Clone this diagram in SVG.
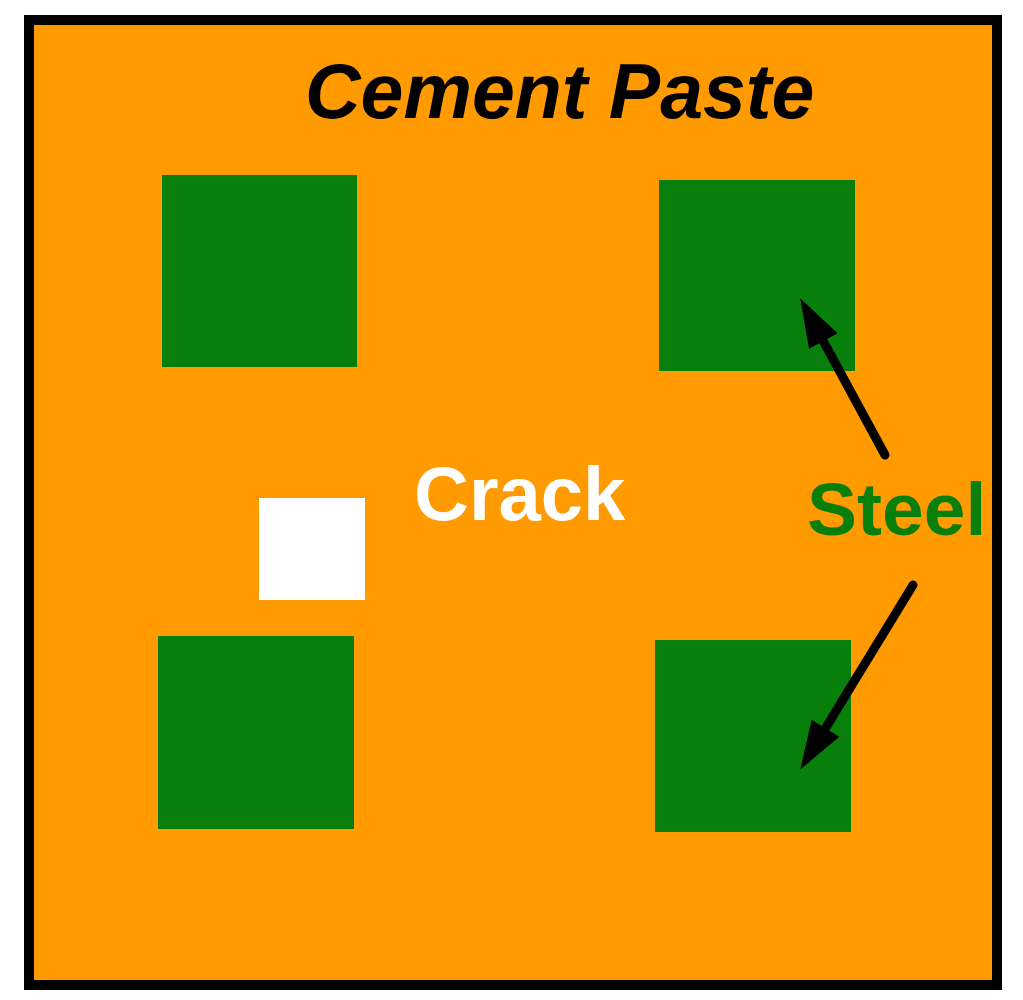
<svg xmlns="http://www.w3.org/2000/svg" width="1023" height="1000" viewBox="0 0 1023 1000">
<defs>
<style>
.steel{fill:#087f0a}
.lbl{font-family:"Liberation Sans",Arial,sans-serif;font-weight:bold}
.arr{stroke:#000;stroke-width:9;stroke-linecap:round;fill:none}
</style>
<marker id="ah" viewBox="0 0 12 8" refX="7.15" refY="4" markerWidth="5.5" markerHeight="3.6" orient="auto" markerUnits="strokeWidth">
<path d="M0,0 L12,4 L0,8 z" fill="#000"/>
</marker>
</defs>
<rect width="1023" height="1000" fill="#fff"/>
<g id="paste">
<rect x="29" y="20" width="968" height="965" fill="#ff9a00" stroke="#000" stroke-width="10"/>
<text class="lbl" x="305" y="118" font-size="77" font-style="italic" fill="#000">Cement Paste</text>
</g>
<g id="steel-tl"><rect class="steel" x="162" y="175" width="195" height="192"/></g>
<g id="steel-tr"><rect class="steel" x="659" y="180" width="196" height="191"/></g>
<g id="steel-bl"><rect class="steel" x="158" y="636" width="196" height="193"/></g>
<g id="steel-br"><rect class="steel" x="655" y="640" width="196" height="192"/></g>
<g id="crack">
<rect x="259" y="498" width="106" height="102" fill="#fff"/>
<text class="lbl" x="414" y="520" font-size="76" fill="#fff">Crack</text>
</g>
<g id="steel-label">
<text class="lbl" x="807" y="535" font-size="75" fill="#087f0a">Steel</text>
</g>
<g id="connectors">
<line class="arr" x1="885" y1="455" x2="809.5" y2="315.6" marker-end="url(#ah)"/>
<line class="arr" x1="913" y1="585" x2="810.4" y2="752.9" marker-end="url(#ah)"/>
</g>
</svg>
